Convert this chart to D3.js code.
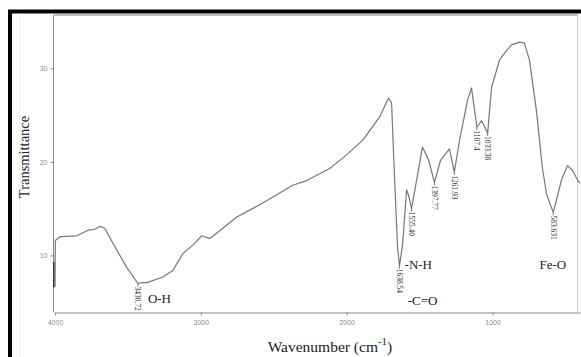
<!DOCTYPE html>
<html>
<head>
<meta charset="utf-8">
<script src="https://cdnjs.cloudflare.com/ajax/libs/d3/7.8.5/d3.min.js"></script>
<style>
	body { margin: 0; background: #fff; }
	.axis path, .axis line { stroke: #8a8a8a; }
	.axis text { fill: #8a8a8a; font-family: "Liberation Sans", sans-serif; font-size: 7px; }
	.axis-title { font-family: "Liberation Serif", serif; fill: #222; }
	.peak-label { font-family: "Liberation Serif", serif; font-size: 7.5px; fill: #333; }
	.group-label { font-family: "Liberation Serif", serif; font-size: 13px; fill: #222; }
</style>
</head>
<body>
<svg id="chart" width="581" height="357"></svg>
<script>

//Spectrum: wavenumber (cm-1) and transmittance
var wavenumber = [4000, 3998, 3966, 3849, 3774, 3726, 3692, 3658, 3603, 3507, 3432, 3404, 3370, 3260, 3192, 3123,
	3055, 2993, 2938, 2890, 2753, 2575, 2370, 2274, 2117, 2027, 1890, 1774, 1726, 1712, 1692, 1671, 1651, 1638,
	1617, 1589, 1575, 1555, 1521, 1480, 1438, 1398, 1356, 1295, 1262, 1226, 1171, 1144, 1123, 1107, 1075, 1033,
	1007, 952, 904, 870, 815, 781, 747, 699, 658, 630, 584, 562, 528, 486, 452, 425, 400];
var transmittance = [6.6, 11.6, 12.0, 12.1, 12.7, 12.8, 13.1, 12.9, 11.3, 8.7, 7.0, 7.1, 7.1, 7.7, 8.4, 10.2,
	11.1, 12.1, 11.8, 12.4, 14.1, 15.6, 17.5, 18.0, 19.3, 20.4, 22.3, 24.8, 26.4, 26.8, 26.3, 18.0, 10.9, 8.9,
	11.1, 17.0, 16.4, 15.0, 18.0, 21.6, 20.2, 17.8, 20.2, 21.4, 18.9, 22.3, 26.6, 27.9, 25.5, 23.7, 24.4, 23.1,
	27.9, 30.9, 31.9, 32.5, 32.8, 32.7, 30.9, 25.5, 19.4, 16.6, 14.6, 15.9, 18.0, 19.6, 19.1, 18.3, 17.7];

//Peak markers
var peakText = ["3430.72", "1638.54", "1555.40", "1397.77", "1261.93", "1107.4", "1033.38", "583.631"];
var peakWave = [3430.72, 1638.54, 1555.40, 1397.77, 1261.93, 1107.4, 1033.38, 583.631];
var peakValue = [7.0, 8.9, 15.0, 17.8, 18.9, 23.7, 23.1, 14.6];

//Band assignments
var groupText = ["O-H", "-N-H", "-C=O", "Fe-O"];
var groupWave = [3363, 1603, 1582, 678];
var groupValue = [4.9, 8.6, 4.65, 8.6];

var xTicks = [4000, 3000, 2000, 1000];
var yTicks = [10, 20, 30];

var svg = d3.select("#chart");

/////////////////////// Frame //////////////////////////

svg.append("rect").attr("x", 0).attr("y", 0).attr("width", 581).attr("height", 357).style("fill", "#fff");
svg.append("line").attr("x1", 8).attr("x2", 581).attr("y1", 11.5).attr("y2", 11.5)
	.style("stroke", "#000").style("stroke-width", 4);
svg.append("line").attr("x1", 10).attr("x2", 10).attr("y1", 10).attr("y2", 357)
	.style("stroke", "#000").style("stroke-width", 4);
svg.append("line").attr("x1", 20).attr("x2", 20).attr("y1", 14).attr("y2", 357)
	.style("stroke", "#eee").style("stroke-width", 1);

/////////////////////// Scales //////////////////////////

var x = d3.scaleLinear().domain([4000, 400]).range([55, 580]);
var y = d3.scaleLinear().domain([3.9, 35.7]).range([312.5, 15]);

//Plot box
svg.append("line").attr("x1", 54).attr("x2", 578).attr("y1", 15).attr("y2", 15)
	.style("stroke", "#aaa").style("stroke-width", 1.5);
svg.append("line").attr("x1", 577.5).attr("x2", 577.5).attr("y1", 15).attr("y2", 312)
	.style("stroke", "#ccc").style("stroke-width", 1);

var xAxis = svg.append("g")
	.attr("class", "axis")
	.attr("transform", "translate(0," + 312.5 + ")")
	.call(d3.axisBottom(x).tickValues(xTicks).tickSize(3).tickSizeOuter(0).tickFormat(d3.format("d")));
xAxis.selectAll("text").attr("dy", "0.9em");

var yAxis = svg.append("g")
	.attr("class", "axis")
	.attr("transform", "translate(" + 53.5 + ",0)")
	.call(d3.axisLeft(y).tickValues(yTicks).tickSize(3).tickSizeOuter(0));
yAxis.select(".domain").attr("d", "M0," + y.range()[1] + "V" + y.range()[0]);

//Axis titles
svg.append("text")
	.attr("class", "axis-title")
	.attr("transform", "translate(" + 29 + "," + 157 + ") rotate(-90)")
	.style("text-anchor", "middle")
	.style("font-size", "14.5px")
	.text("Transmittance");

var xTitle = svg.append("text")
	.attr("class", "axis-title")
	.attr("x", 330)
	.attr("y", 352)
	.style("text-anchor", "middle")
	.style("font-size", "15.5px");
xTitle.append("tspan").text("Wavenumber (cm");
xTitle.append("tspan").attr("dy", -7).style("font-size", "11px").text("-1");
xTitle.append("tspan").attr("dy", 7).text(")");

/////////////////////// Spectrum //////////////////////////

var line = d3.line()
	.x(function(d,i) { return x(wavenumber[i]); })
	.y(function(d,i) { return y(transmittance[i]); });

//Dark bit at the start on the axis
svg.append("line")
	.attr("x1", x(4000) - 1).attr("x2", x(4000) - 1)
	.attr("y1", y(6.6)).attr("y2", y(9.3))
	.style("stroke", "#222").style("stroke-width", 1.5);

svg.append("path")
	.datum(wavenumber)
	.attr("d", line)
	.style("fill", "none")
	.style("stroke", "#777")
	.style("stroke-width", 1.2)
	.style("stroke-linejoin", "round");

/////////////////////// Labels //////////////////////////

svg.selectAll(".peak-label")
	.data(peakText)
	.enter().append("text")
	.attr("class", "peak-label")
	.attr("transform", function(d,i) { return "translate(" + x(peakWave[i]) + "," + (y(peakValue[i]) + 3) + ") rotate(90)"; })
	.attr("dy", "0.35em")
	.text(function(d) { return d; });

//little tick marks below each peak
svg.selectAll(".peak-tick")
	.data(peakText)
	.enter().append("line")
	.attr("class", "peak-tick")
	.attr("x1", function(d,i) { return x(peakWave[i]); })
	.attr("x2", function(d,i) { return x(peakWave[i]); })
	.attr("y1", function(d,i) { return y(peakValue[i]); })
	.attr("y2", function(d,i) { return y(peakValue[i]) + 3; })
	.style("stroke", "#555").style("stroke-width", 0.8);

svg.selectAll(".group-label")
	.data(groupText)
	.enter().append("text")
	.attr("class", "group-label")
	.attr("x", function(d,i) { return x(groupWave[i]); })
	.attr("y", function(d,i) { return y(groupValue[i]); })
	.text(function(d) { return d; });

</script>
</body>
</html>
